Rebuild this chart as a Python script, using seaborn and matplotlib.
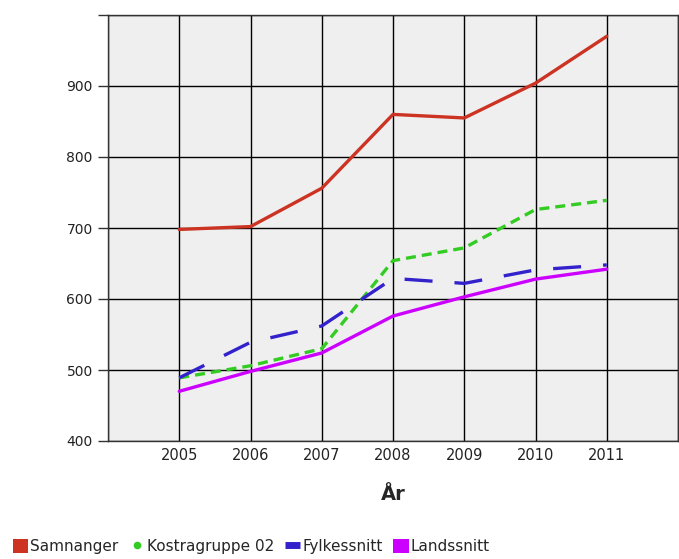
import matplotlib
matplotlib.use("Agg")
import matplotlib.pyplot as plt
from matplotlib.patches import Patch
from matplotlib.lines import Line2D
import seaborn as sns
import pandas as pd

years = [2005, 2006, 2007, 2008, 2009, 2010, 2011]
samnanger = [698, 702, 756, 860, 855, 904, 970]
kostragruppe = [489, 506, 530, 654, 672, 726, 739]
fylkessnitt = [489, 539, 562, 629, 622, 641, 648]
landssnitt = [470, 498, 524, 576, 603, 628, 642]
series_names = ["Samnanger", "Kostragruppe 02", "Fylkessnitt", "Landssnitt"]
colors = ["#cc3322", "#33cc22", "#3322cc", "#cc00ff"]

rows = []
for name, vals in zip(series_names, [samnanger, kostragruppe, fylkessnitt, landssnitt]):
    for y, v in zip(years, vals):
        rows.append({"År": y, "Verdi": v, "Serie": name})
df = pd.DataFrame(rows)

sns.set_style("white")
plt.rcParams['font.family'] = ['DejaVu Sans']

fig = plt.figure(figsize=(6.79, 5.59), dpi=100)
ax = fig.add_axes([108 / 679, 1 - 441 / 559, (678 - 108) / 679, (441 - 15) / 559])
ax.set_facecolor("#efefef")

palette = dict(zip(series_names, colors))
lw = 2.4
dashes = {
    "Samnanger": "",
    "Kostragruppe 02": (3.0, 1.8),
    "Fylkessnitt": (8.4, 6.6),
    "Landssnitt": "",
}
sns.lineplot(data=df, x="År", y="Verdi", hue="Serie", style="Serie",
             palette=palette, dashes=dashes, linewidth=lw, ax=ax, legend=False,
             zorder=3)

ax.set_xlim(2004, 2012)
ax.set_ylim(400, 1000)
ax.set_xticks(list(range(2004, 2013)))
ax.set_xticklabels([""] + [str(y) for y in years] + [""])
ax.set_yticks([400, 500, 600, 700, 800, 900, 1000])
ax.set_yticklabels(["400", "500", "600", "700", "800", "900", ""])
ax.grid(True, color="black", linewidth=1.0, zorder=1)
ax.set_axisbelow(True)
for s in ax.spines.values():
    s.set_color("#333333")
    s.set_linewidth(1.0)
ax.tick_params(axis="y", length=7, width=1, color="#333333", labelsize=10,
               labelcolor="#222222", pad=4, left=True)
ax.tick_params(axis="x", length=0, labelsize=10.5, labelcolor="#222222", pad=5)
ax.set_xlabel("År", fontsize=14, fontweight="bold", labelpad=16)
ax.set_ylabel("")

handles = [
    Patch(facecolor=colors[0], edgecolor="none"),
    Line2D([0], [0], marker="o", color="none", markerfacecolor=colors[1],
           markeredgecolor="none", markersize=5.5),
    Line2D([0], [0], color=colors[2], linewidth=5, solid_capstyle="butt"),
    Patch(facecolor=colors[3], edgecolor="none"),
]
fig.legend(handles, series_names, loc="lower left", bbox_to_anchor=(0.005, -0.008),
           ncol=4, frameon=False, fontsize=11, handlelength=1.0, handleheight=1.0,
           handletextpad=0.15, columnspacing=0.7, borderaxespad=0.2)

fig.savefig("out.png", dpi=100)
